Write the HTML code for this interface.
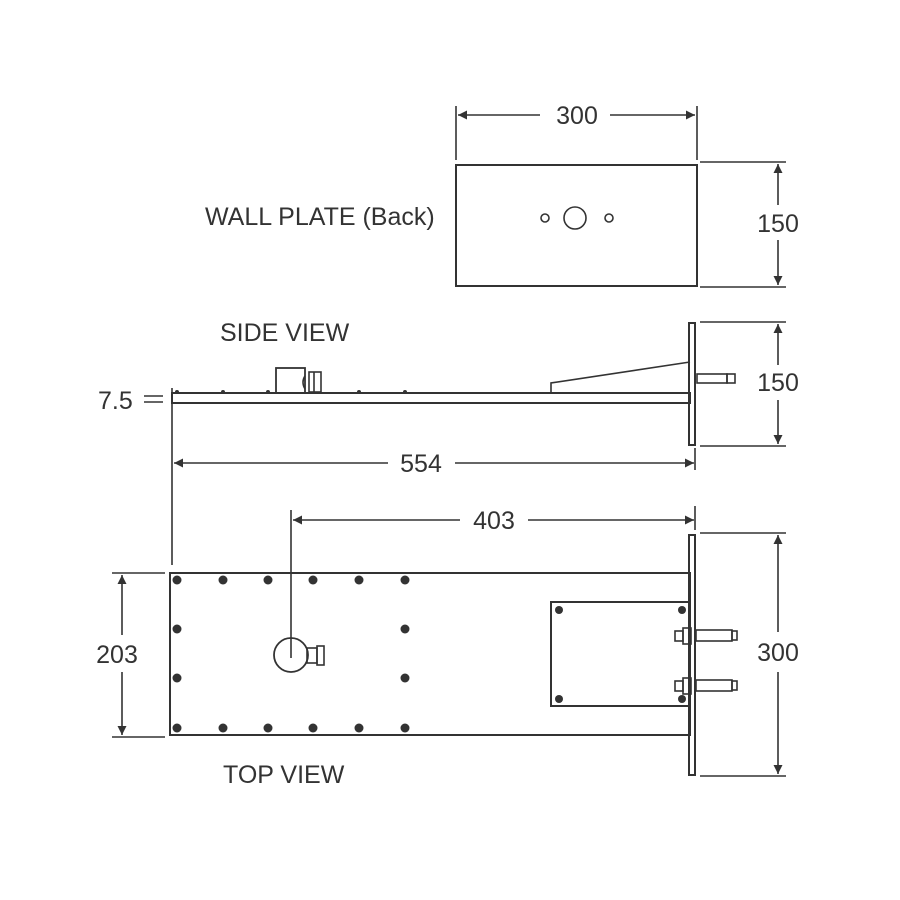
<!DOCTYPE html>
<html><head><meta charset="utf-8"><style>
html,body{margin:0;padding:0;background:#fff}
svg{display:block}
text{font-family:"Liberation Sans",sans-serif;fill:#333;font-size:25px}
</style></head><body>
<svg width="900" height="900" viewBox="0 0 900 900" xmlns="http://www.w3.org/2000/svg">
<defs>
<marker id="a" viewBox="0 0 10 10" refX="10" refY="5" markerWidth="12" markerHeight="9" orient="auto-start-reverse" markerUnits="userSpaceOnUse"><path d="M0,0 L10,5 L0,10z" fill="#333"/></marker>
</defs>
<g stroke="#333" stroke-width="1.6" fill="none">
<!-- wall plate -->
<rect x="456" y="165" width="241" height="121" stroke-width="2"/>
<circle cx="545" cy="218" r="4"/>
<circle cx="575" cy="218" r="11"/>
<circle cx="609" cy="218" r="4"/>
<line x1="456" y1="160" x2="456" y2="106"/>
<line x1="697" y1="160" x2="697" y2="106"/>
<line x1="458" y1="115" x2="540" y2="115" marker-start="url(#a)"/>
<line x1="610" y1="115" x2="695" y2="115" marker-end="url(#a)"/>
<line x1="700" y1="162" x2="786" y2="162"/>
<line x1="700" y1="287" x2="786" y2="287"/>
<line x1="778" y1="164" x2="778" y2="205" marker-start="url(#a)"/>
<line x1="778" y1="240" x2="778" y2="285" marker-end="url(#a)"/>

<!-- side view -->
<rect x="172" y="393" width="518" height="10" stroke-width="2"/>
<line x1="172" y1="388" x2="172" y2="565"/>
<rect x="689" y="323" width="6" height="122" stroke-width="2"/>
<polyline points="551,393 551,383 690,362"/>
<rect x="276" y="368" width="29" height="25" stroke-width="1.8"/>
<path d="M305,376 Q301,382 305,389"/>
<rect x="309" y="372" width="12" height="20"/>
<line x1="314" y1="372" x2="314" y2="392"/>
<rect x="697" y="374" width="30" height="9"/>
<rect x="727" y="374" width="8" height="9"/>
<line x1="144" y1="396" x2="163" y2="396"/>
<line x1="144" y1="402" x2="163" y2="402"/>
<line x1="700" y1="322" x2="786" y2="322"/>
<line x1="700" y1="446" x2="786" y2="446"/>
<line x1="778" y1="324" x2="778" y2="365" marker-start="url(#a)"/>
<line x1="778" y1="400" x2="778" y2="444" marker-end="url(#a)"/>
<line x1="174" y1="463" x2="388" y2="463" marker-start="url(#a)"/>
<line x1="455" y1="463" x2="694" y2="463" marker-end="url(#a)"/>
<line x1="695" y1="448" x2="695" y2="470"/>

<!-- top view -->
<line x1="291" y1="510" x2="291" y2="658"/>
<line x1="293" y1="520" x2="460" y2="520" marker-start="url(#a)"/>
<line x1="528" y1="520" x2="694" y2="520" marker-end="url(#a)"/>
<line x1="695" y1="506" x2="695" y2="530"/>
<rect x="170" y="573" width="520" height="162" stroke-width="2"/>
<rect x="689" y="535" width="6" height="240" stroke-width="2"/>
<rect x="551" y="602" width="139" height="104" stroke-width="2"/>
<circle cx="291" cy="655" r="17" stroke-width="1.8"/>
<rect x="307" y="648" width="10" height="15"/>
<rect x="317" y="646" width="7" height="19"/>
<g>
<rect x="675" y="631" width="8" height="10"/><rect x="683" y="628" width="8" height="16"/>
<rect x="696" y="630" width="36" height="11"/><rect x="732" y="631" width="5" height="9"/>
<rect x="675" y="681" width="8" height="10"/><rect x="683" y="678" width="8" height="16"/>
<rect x="696" y="680" width="36" height="11"/><rect x="732" y="681" width="5" height="9"/>
</g>
<line x1="112" y1="573" x2="165" y2="573"/>
<line x1="112" y1="737" x2="165" y2="737"/>
<line x1="122" y1="575" x2="122" y2="635" marker-start="url(#a)"/>
<line x1="122" y1="672" x2="122" y2="735" marker-end="url(#a)"/>
<line x1="700" y1="533" x2="786" y2="533"/>
<line x1="700" y1="776" x2="786" y2="776"/>
<line x1="778" y1="535" x2="778" y2="632" marker-start="url(#a)"/>
<line x1="778" y1="672" x2="778" y2="774" marker-end="url(#a)"/>
</g>
<g fill="#333">
<circle cx="177" cy="392" r="2"/><circle cx="223" cy="392" r="2"/><circle cx="268" cy="392" r="2"/>
<circle cx="359" cy="392" r="2"/><circle cx="405" cy="392" r="2"/>
<circle cx="177" cy="580" r="4.5"/><circle cx="223" cy="580" r="4.5"/><circle cx="268" cy="580" r="4.5"/><circle cx="313" cy="580" r="4.5"/><circle cx="359" cy="580" r="4.5"/><circle cx="405" cy="580" r="4.5"/>
<circle cx="177" cy="728" r="4.5"/><circle cx="223" cy="728" r="4.5"/><circle cx="268" cy="728" r="4.5"/><circle cx="313" cy="728" r="4.5"/><circle cx="359" cy="728" r="4.5"/><circle cx="405" cy="728" r="4.5"/>
<circle cx="177" cy="629" r="4.5"/><circle cx="177" cy="678" r="4.5"/>
<circle cx="405" cy="629" r="4.5"/><circle cx="405" cy="678" r="4.5"/>
<circle cx="559" cy="610" r="4"/><circle cx="682" cy="610" r="4"/>
<circle cx="559" cy="699" r="4"/><circle cx="682" cy="699" r="4"/>
</g>
<text x="577" y="124" text-anchor="middle">300</text>
<text x="778" y="232" text-anchor="middle">150</text>
<text x="205" y="225" font-size="24">WALL PLATE (Back)</text>
<text x="220" y="341" font-size="24">SIDE VIEW</text>
<text x="98" y="409">7.5</text>
<text x="778" y="391" text-anchor="middle">150</text>
<text x="421" y="472" text-anchor="middle">554</text>
<text x="494" y="529" text-anchor="middle">403</text>
<text x="117" y="663" text-anchor="middle">203</text>
<text x="778" y="661" text-anchor="middle">300</text>
<text x="223" y="783" font-size="24">TOP VIEW</text>
</svg>
</body></html>
